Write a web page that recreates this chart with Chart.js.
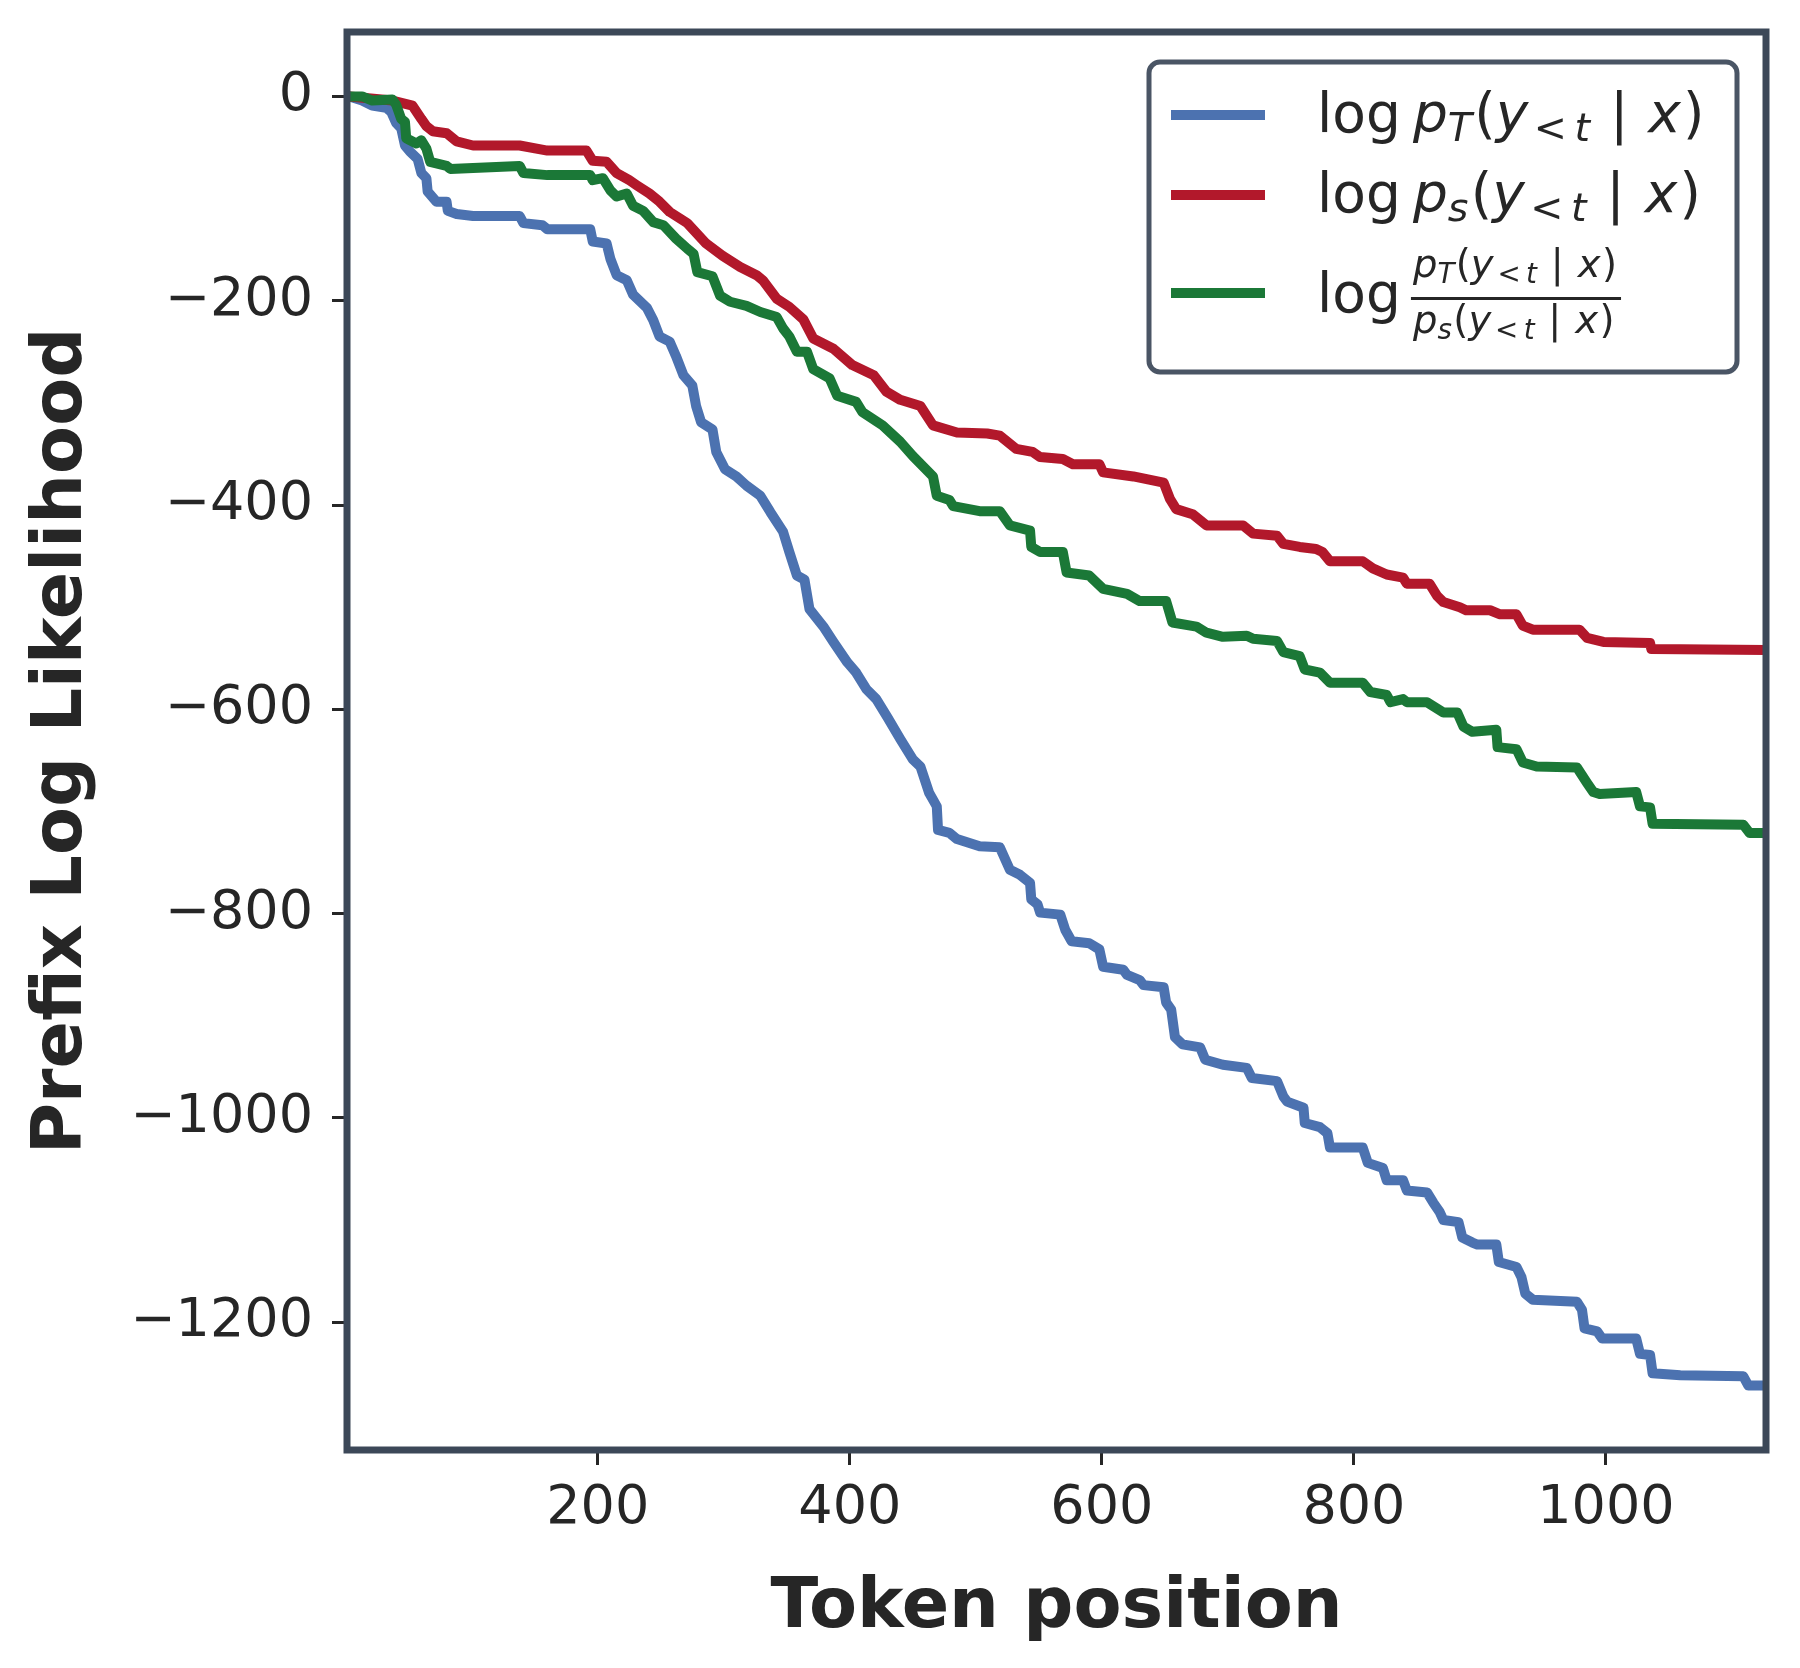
<!DOCTYPE html>
<html><head><meta charset="utf-8">
<script src="https://cdn.jsdelivr.net/npm/chart.js@4.4.0/dist/chart.umd.min.js"></script>
<style>html,body{margin:0;padding:0;background:#fff}canvas{display:block}</style>
</head><body>
<canvas id="c" width="1800" height="1668" style="width:1800px;height:1668px"></canvas>
<script>
// ---- data ----
const tokT = [1,3,13,21,32,36,40,44,47,51,57,60,64,65,72,80,81,88,101,138,141,156,160,194,196,207,210,215,223,228,239,244,249,257,262,268,275,278,282,291,294,301,310,318,329,337,347,352,358,364,368,379,387,398,405,413,421,430,440,450,456,463,469,470,479,485,503,519,527,535,543,544,549,551,567,571,576,590,598,601,617,620,630,633,649,651,655,658,664,678,682,696,715,719,739,744,747,760,761,773,779,781,807,811,823,826,839,842,858,863,868,871,883,886,894,898,913,915,929,933,936,942,977,981,983,993,997,1024,1027,1035,1037,1059,1109,1113,1127];
const logPT = [0,0,-4,-9,-11,-15,-26,-31,-48,-54,-61,-75,-80,-93,-103,-103,-112,-115,-117,-117,-124,-126,-130,-130,-142,-144,-159,-175,-180,-194,-207,-219,-235,-240,-254,-273,-283,-303,-319,-326,-348,-365,-372,-381,-391,-407,-426,-446,-469,-473,-502,-519,-534,-554,-564,-580,-590,-608,-629,-649,-656,-682,-695,-718,-721,-727,-734,-735,-757,-762,-770,-786,-791,-799,-801,-816,-827,-829,-835,-852,-855,-860,-865,-870,-872,-887,-894,-921,-928,-931,-943,-948,-951,-961,-964,-979,-984,-990,-1005,-1009,-1015,-1029,-1029,-1044,-1049,-1061,-1061,-1071,-1073,-1083,-1092,-1100,-1102,-1117,-1122,-1124,-1124,-1141,-1146,-1156,-1172,-1178,-1180,-1188,-1206,-1209,-1216,-1216,-1231,-1232,-1250,-1252,-1253,-1262,-1262];

const tokS = [1,3,37,53,60,64,69,80,88,101,138,160,191,196,207,215,225,231,241,249,257,271,286,299,313,326,331,342,352,363,371,387,402,419,429,440,456,466,485,509,519,532,545,551,569,577,598,601,625,649,654,659,672,683,712,720,739,744,757,770,775,781,807,815,826,839,842,860,866,871,884,889,908,916,929,934,942,979,985,998,1035,1036,1127];
const logPS = [0,0,-4,-9,-22,-29,-34,-36,-44,-48,-48,-53,-53,-63,-64,-75,-82,-87,-95,-103,-113,-124,-144,-156,-167,-175,-180,-198,-206,-218,-237,-247,-263,-273,-289,-297,-303,-322,-329,-330,-332,-345,-348,-353,-355,-360,-360,-368,-372,-378,-394,-404,-409,-420,-420,-428,-430,-438,-441,-443,-446,-455,-455,-462,-468,-471,-477,-477,-489,-495,-500,-503,-503,-507,-507,-518,-522,-522,-530,-534,-535,-541,-542];

const tokR = [1,3,13,21,37,40,44,47,48,56,60,64,67,80,83,101,138,141,160,194,196,204,210,215,223,228,236,244,252,262,271,276,279,291,297,305,318,329,342,347,352,358,366,371,384,390,405,410,426,440,450,466,469,479,482,503,519,527,543,544,551,569,572,590,601,620,630,651,656,675,683,696,715,720,739,744,757,761,773,781,807,813,826,829,839,842,858,871,882,887,894,913,914,929,934,945,977,985,990,995,1024,1027,1035,1037,1109,1114,1127];
const logRatio = [0,0,0,-4,-3,-8,-22,-25,-41,-46,-43,-51,-64,-68,-71,-70,-68,-75,-77,-77,-82,-80,-92,-98,-95,-107,-112,-123,-126,-139,-149,-154,-172,-176,-195,-201,-205,-211,-216,-227,-235,-250,-250,-267,-276,-293,-299,-309,-322,-338,-352,-372,-391,-395,-401,-406,-406,-420,-425,-441,-446,-446,-466,-469,-482,-487,-494,-494,-515,-519,-525,-529,-528,-531,-533,-544,-548,-561,-564,-574,-574,-583,-586,-593,-590,-593,-593,-603,-603,-617,-622,-620,-637,-639,-652,-656,-657,-672,-681,-683,-681,-695,-696,-712,-713,-721,-721];

const seriesLabels = ['log p_T(y_<t | x)', 'log p_s(y_<t | x)', 'log p_T(y_<t | x) / p_s(y_<t | x)'];
const xTicks = [200, 400, 600, 800, 1000];
const xTickLabels = ['200', '400', '600', '800', '1000'];
const yTicks = [0, -200, -400, -600, -800, -1000, -1200];
const yTickLabels = ['0', '\u2212200', '\u2212400', '\u2212600', '\u2212800', '\u22121000', '\u22121200'];
const xTitle = 'Token position';
const yTitle = 'Prefix Log Likelihood';

// ---- styling ----
const FONT = 'DejaVu Sans';
const TXT = '#262626';
const SPINE = '#3c4858';
const colors = ['#4c72b0', '#b2182b', '#1b7837'];

const pts = (xs, ys) => xs.map((x, i) => ({x: x, y: ys[i]}));

const spinePlugin = {
  id: 'spines',
  afterDatasetsDraw(chart) {
    const {ctx, chartArea: a} = chart;
    ctx.save();
    ctx.strokeStyle = SPINE;
    ctx.lineWidth = 7;
    ctx.strokeRect(a.left, a.top, a.right - a.left, a.bottom - a.top);
    ctx.restore();
  }
};

function drawRuns(ctx, x, y, size, runs) {
  for (const r of runs) {
    const s = size * (r.s || 1);
    x += (r.gap || 0) * size;
    ctx.font = (r.it ? 'italic ' : '') + s + 'px "' + FONT + '"';
    ctx.fillText(r.t, x, y + (r.dy || 0) * size);
    x += ctx.measureText(r.t).width;
  }
  return x;
}
function probRuns(sub) {
  return [
    {t: 'p', it: true},
    {t: sub, it: true, s: 0.72, dy: 0.16},
    {t: '(', gap: 0.04},
    {t: 'y', it: true},
    {t: '<', s: 0.72, dy: 0.16, gap: 0.1},
    {t: 't', it: true, s: 0.72, dy: 0.16, gap: 0.14},
    {t: '|', gap: 0.36},
    {t: 'x', it: true, gap: 0.36},
    {t: ')', gap: 0.04}
  ];
}

const legendPlugin = {
  id: 'mathLegend',
  afterDraw(chart) {
    const ctx = chart.ctx;
    const a = chart.chartArea;
    const bx = a.right - 29 - 588, by = a.top + 30, bw = 588, bh = 310;
    ctx.save();
    ctx.beginPath();
    ctx.roundRect(bx, by, bw, bh, 11);
    ctx.fillStyle = '#ffffff';
    ctx.fill();
    ctx.lineWidth = 5;
    ctx.strokeStyle = '#4a5565';
    ctx.stroke();
    const S = 55;
    const hx0 = bx + 22, hx1 = bx + 116, tx = bx + 168;
    const handleY = [by + 53, by + 133, by + 231];
    const baseY = [by + 70, by + 150, by + 250];
    chart.data.datasets.forEach((ds, i) => {
      ctx.strokeStyle = ds.borderColor;
      ctx.lineWidth = 10;
      ctx.lineCap = 'butt';
      ctx.beginPath();
      ctx.moveTo(hx0, handleY[i]);
      ctx.lineTo(hx1, handleY[i]);
      ctx.stroke();
    });
    ctx.fillStyle = TXT;
    ctx.textBaseline = 'alphabetic';
    ctx.textAlign = 'left';
    drawRuns(ctx, tx, baseY[0], S, [{t: 'log'}].concat(probRuns('T').map((r, k) => k === 0 ? Object.assign({gap: 0.22}, r) : r)));
    drawRuns(ctx, tx, baseY[1], S, [{t: 'log'}].concat(probRuns('s').map((r, k) => k === 0 ? Object.assign({gap: 0.22}, r) : r)));
    const xl = drawRuns(ctx, tx, baseY[2], S, [{t: 'log'}]);
    const fx = xl + 0.22 * S;
    const fs = S * 0.7;
    const nEnd = drawRuns(ctx, fx, baseY[2] - 35, fs, probRuns('T'));
    const dEnd = drawRuns(ctx, fx, baseY[2] + 21, fs, probRuns('s'));
    ctx.fillRect(fx - 2, baseY[2] - 15, Math.max(nEnd, dEnd) - fx + 6, 3);
    ctx.restore();
  }
};

new Chart(document.getElementById('c'), {
  type: 'line',
  data: {
    datasets: [
      {label: seriesLabels[0], data: pts(tokT, logPT), borderColor: colors[0], order: 3},
      {label: seriesLabels[1], data: pts(tokS, logPS), borderColor: colors[1], order: 2},
      {label: seriesLabels[2], data: pts(tokR, logRatio), borderColor: colors[2], order: 1}
    ].map(d => Object.assign(d, {borderWidth: 10, pointRadius: 0, tension: 0, fill: false, borderJoinStyle: 'round', borderCapStyle: 'butt', clip: 0}))
  },
  options: {
    responsive: false,
    animation: false,
    devicePixelRatio: 1,
    layout: {padding: {left: 0, right: 34, top: 32, bottom: 0}},
    plugins: {legend: {display: false}, tooltip: {enabled: false}},
    scales: {
      x: {
        type: 'linear', min: 1, max: 1127,
        afterBuildTicks: s => { s.ticks = xTicks.map(v => ({value: v})); },
        afterFit: s => { s.height = 218; s.paddingLeft = 0; s.paddingRight = 0; },
        ticks: {
          font: {family: FONT, size: 54}, color: TXT, padding: 12, maxRotation: 0, autoSkip: false,
          callback: v => xTickLabels[xTicks.indexOf(v)]
        },
        grid: {drawOnChartArea: false, drawTicks: true, tickLength: 15, tickWidth: 3, lineWidth: 3, tickColor: TXT},
        border: {display: false},
        title: {display: true, text: xTitle, color: TXT, font: {family: FONT, size: 70, weight: 'bold'}, padding: {top: 0, bottom: 17}}
      },
      y: {
        type: 'linear', min: -1325.1, max: 63.1,
        afterBuildTicks: s => { s.ticks = yTicks.map(v => ({value: v})); },
        afterFit: s => { s.width = 347; s.paddingTop = 0; s.paddingBottom = 0; },
        ticks: {
          font: {family: FONT, size: 54}, color: TXT, padding: 19, autoSkip: false,
          callback: v => yTickLabels[yTicks.indexOf(v)]
        },
        grid: {drawOnChartArea: false, drawTicks: true, tickLength: 15, tickWidth: 3, lineWidth: 3, tickColor: TXT},
        border: {display: false},
        title: {display: true, text: yTitle, color: TXT, font: {family: FONT, size: 70, weight: 'bold'}, padding: {top: 21, bottom: 0}}
      }
    }
  },
  plugins: [spinePlugin, legendPlugin]
});
</script>
</body></html>
